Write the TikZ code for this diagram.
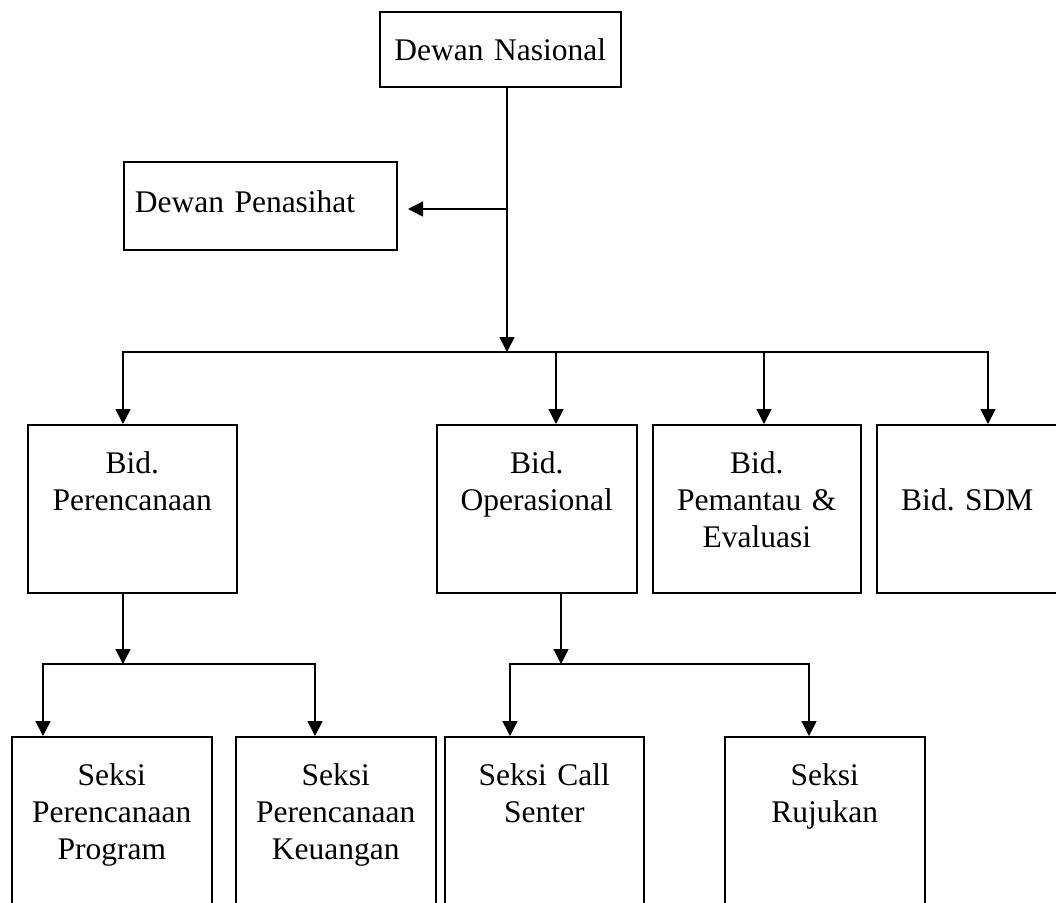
\documentclass[tikz,border=0pt]{standalone}
\usepackage{fontspec}
\setmainfont{Liberation Serif}
\usetikzlibrary{arrows.meta}
\frenchspacing

\tikzset{
  kotak/.style={draw, line width=1.6pt, inner sep=0pt, anchor=north west,
    align=center, text height=49pt, font=\fontsize{31.5}{37}\selectfont},
  panah/.style={-{Triangle[width=15pt,length=15pt]}, line width=1.6pt},
}

\begin{document}
\begin{tikzpicture}[x=1pt,y=-1pt]
        \useasboundingbox (0,0) rectangle (1056,902);

        % boxes
        \node[kotak, text width=241pt, text depth=26pt] (nas) at (379,11) {Dewan Nasional};
        \node[kotak, align=left, inner xsep=11pt, text width=251pt, text height=51pt, text depth=37pt] (pen) at (123,161) {Dewan Penasihat};

        \node[kotak, text width=209pt, text depth=119pt] (bper) at (27,424) {Bid.\\Perencanaan};
        \node[kotak, text width=200pt, text depth=119pt] (bops) at (436,424) {Bid.\\Operasional};
        \node[kotak, text width=208pt, text depth=119pt] (bpe) at (652,424) {Bid.\\Pemantau \&\\Evaluasi};
        \node[kotak, text width=181pt, text height=86pt, text depth=82pt] (bsdm) at (876,424) {Bid. SDM};

        \node[kotak, text width=200pt, text depth=125pt] (sprog) at (11,736) {Seksi\\Perencanaan\\Program};
        \node[kotak, text width=200pt, text depth=125pt] (skeu) at (235,736) {Seksi\\Perencanaan\\Keuangan};
        \node[kotak, text width=199pt, text depth=125pt] (scall) at (444,736) {Seksi Call\\Senter};
        \node[kotak, text width=200pt, text depth=125pt] (sruj) at (724,736) {Seksi\\Rujukan};

        % top level
        \coordinate (t1) at (507,352);
        \coordinate (t2) at (507,209);
        \coordinate (pa) at (408,209);
        \draw[panah] (nas.south -| t1) -- (t1);
        \draw[panah] (t2) -- (pa);

        \coordinate (b1) at (123,352);
        \coordinate (b2) at (556,352);
        \coordinate (b3) at (764,352);
        \coordinate (b4) at (988,352);
        \foreach \b/\n in {b1/bper, b2/bops, b3/bpe, b4/bsdm}
            \draw[panah] (t1) -- (\b) -- (\b |- \n.north);

        % seksi
        \coordinate (c0) at (123,664);
        \coordinate (c1) at (43,664);
        \coordinate (c2) at (315,664);
        \draw[panah] (bper.south -| c0) -- (c0);
        \draw[panah] (c0) -- (c1) -- (c1 |- sprog.north);
        \draw[panah] (c0) -- (c2) -- (c2 |- skeu.north);

        \coordinate (d0) at (561,664);
        \coordinate (d1) at (510,664);
        \coordinate (d2) at (809,664);
        \draw[panah] (bops.south -| d0) -- (d0);
        \draw[panah] (d0) -- (d1) -- (d1 |- scall.north);
        \draw[panah] (d0) -- (d2) -- (d2 |- sruj.north);

    \end{tikzpicture}
\end{document}
